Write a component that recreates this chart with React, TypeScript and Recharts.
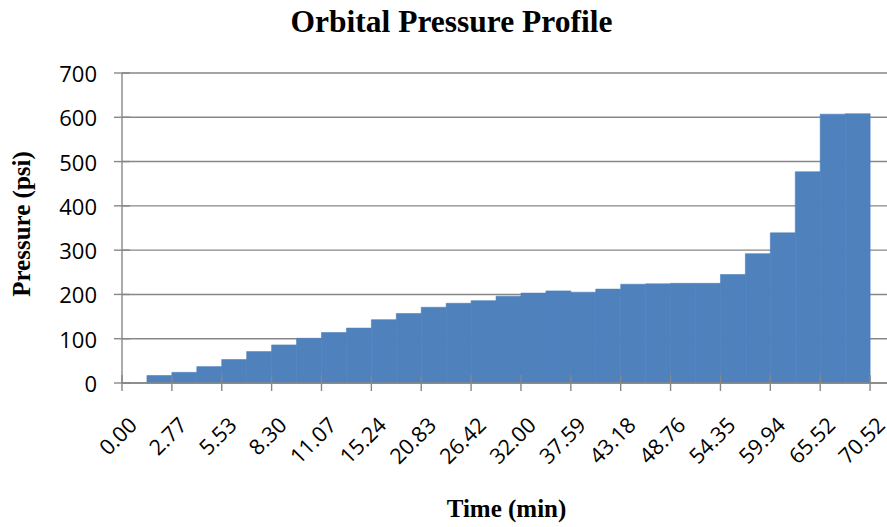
import React from 'react';
import { BarChart, Bar, XAxis, YAxis, CartesianGrid } from 'recharts';

const tickLabels = [
  '0.00', '2.77', '5.53', '8.30', '11.07', '15.24', '20.83', '26.42',
  '32.00', '37.59', '43.18', '48.76', '54.35', '59.94', '65.52', '70.52',
];

const pressure: (number | null)[] = [
  null, 17, 24, 37, 53, 71, 86, 101, 114, 124, 143, 157, 171, 180, 186,
  196, 203, 208, 205, 212, 223, 224, 225, 225, 245, 292, 339, 477, 607, 608, null,
];

const yTicks = [0, 100, 200, 300, 400, 500, 600, 700];

const data = pressure.map((p, i) => ({ idx: i, pressure: p }));

const W = 910;
const H = 527;
const TOP = 73;
const PLOT_H = 310;
const LEFT = 122;
const RIGHT_M = 15;
const PLOT_W = W - LEFT - RIGHT_M;
const BAND = PLOT_W / pressure.length;
const AXIS_Y = TOP + PLOT_H;
const GRAY = '#878787';
const BLUE = '#4F81BD';
const TICK_FONT = '"Open Sans", sans-serif';

const XTick = (props: any) => {
  const { x, payload } = props;
  const i = Number(payload.value);
  if (i % 2 !== 0) return <g />;
  const tx = x + 4;
  const ty = AXIS_Y + 43.5;
  return (
    <g>
      <line x1={x - BAND / 2} x2={x - BAND / 2} y1={AXIS_Y - 8} y2={AXIS_Y + 8} stroke={GRAY} strokeWidth={1.4} />
      <text
        x={tx}
        y={ty}
        textAnchor="end"
        transform={`rotate(-45 ${tx} ${ty})`}
        fontFamily={TICK_FONT}
        fontSize={21.5}
        fill="#000"
      >
        {tickLabels[i / 2]}
      </text>
    </g>
  );
};

const YTick = (props: any) => {
  const { y, payload } = props;
  return (
    <g>
      <line x1={LEFT - 8} x2={LEFT + 8} y1={y} y2={y} stroke={GRAY} strokeWidth={1.4} />
      <text
        x={97}
        y={y}
        textAnchor="end"
        dominantBaseline="central"
        fontFamily={TICK_FONT}
        fontSize={22}
        fill="#000"
      >
        {payload.value}
      </text>
    </g>
  );
};

export default function App() {
  return (
    <div style={{ position: 'absolute', left: 0, top: 0, width: 887, height: 527, overflow: 'hidden', background: '#fff' }}>
      <BarChart
        width={W}
        height={H}
        data={data}
        margin={{ top: TOP, right: RIGHT_M, bottom: 0, left: 0 }}
        barCategoryGap={0}
        barGap={0}
      >
        <CartesianGrid horizontal vertical={false} stroke={GRAY} strokeWidth={1.4} />
        <Bar dataKey="pressure" fill={BLUE} stroke={BLUE} strokeWidth={0.6} isAnimationActive={false} />
        <XAxis
          dataKey="idx"
          interval={0}
          height={H - TOP - PLOT_H}
          axisLine={{ stroke: GRAY, strokeWidth: 1.4 }}
          tickLine={false}
          tick={<XTick />}
        />
        <YAxis
          domain={[0, 700]}
          ticks={yTicks}
          width={LEFT}
          axisLine={{ stroke: GRAY, strokeWidth: 1.4 }}
          tickLine={false}
          tick={<YTick />}
          interval={0}
        />
      </BarChart>
      <svg width={887} height={527} style={{ position: 'absolute', left: 0, top: 0, pointerEvents: 'none' }}>
        <text x={451.5} y={32} textAnchor="middle" fontFamily='"Liberation Serif", serif' fontWeight="bold" fontSize={31.5} fill="#000">
          Orbital Pressure Profile
        </text>
        <text
          x={30}
          y={224}
          textAnchor="middle"
          transform="rotate(-90 30 224)"
          fontFamily='"Liberation Serif", serif'
          fontWeight="bold"
          fontSize={25}
          fill="#000"
        >
          Pressure (psi)
        </text>
        <text x={506.5} y={517} textAnchor="middle" fontFamily='"Liberation Serif", serif' fontWeight="bold" fontSize={25} fill="#000">
          Time (min)
        </text>
      </svg>
    </div>
  );
}
